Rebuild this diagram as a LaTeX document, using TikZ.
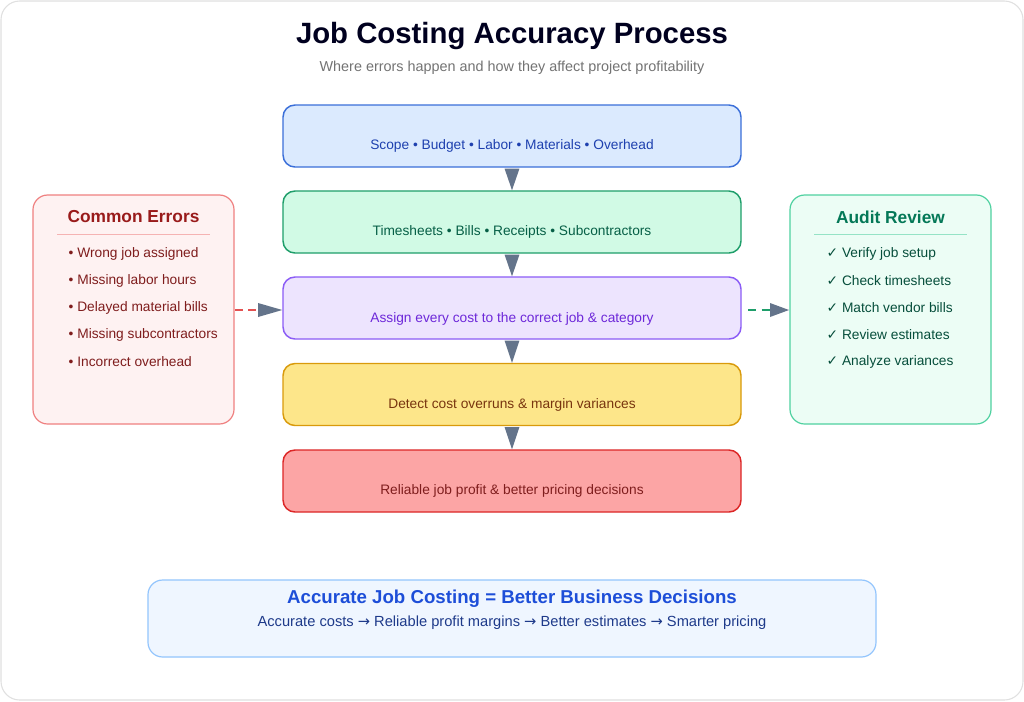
\documentclass[tikz,border=0pt]{standalone}
\usepackage{fontspec}
\setmainfont{Liberation Sans}
\newfontfamily\symf{DejaVu Sans}
\definecolor{slate}{HTML}{64748B}
\begin{document}
\begin{tikzpicture}[x=0.75pt,y=-0.75pt,
  stage/.style={draw,line width=1.1pt,rounded corners=9pt,minimum width=458*0.75pt,minimum height=62*0.75pt,text depth=0pt},
  side/.style={draw,line width=0.9pt,rounded corners=11pt},
  head/.style={fill=slate},
  txt/.style={font=\fontsize{10.3}{12}\selectfont,anchor=west},
  lbl/.style={font=\fontsize{10.3}{12}\selectfont}]
\useasboundingbox (0,0) rectangle (1024,701);
\draw[draw=black!12,fill=white,rounded corners=14pt,line width=0.8pt] (1,1) rectangle (1023,700);
\node[font=\fontsize{22}{24}\bfseries,text=black!80!blue!60!black] (title) at (512,36) {Job Costing Accuracy Process};
\node[font=\fontsize{10.8}{12}\selectfont,text=black!55] (sub) at (512,68) {Where errors happen and how they affect project profitability};
\definecolor{b1}{HTML}{DBEAFE}\definecolor{b1d}{HTML}{3B6FD9}\definecolor{b1t}{HTML}{1E40AF}
\definecolor{b2}{HTML}{D1FAE5}\definecolor{b2d}{HTML}{1E9E6A}\definecolor{b2t}{HTML}{065F46}
\definecolor{b3}{HTML}{EDE4FE}\definecolor{b3d}{HTML}{8B5CF6}\definecolor{b3t}{HTML}{6D28D9}
\definecolor{b4}{HTML}{FDE68A}\definecolor{b4d}{HTML}{D99A0B}\definecolor{b4t}{HTML}{78350F}
\definecolor{b5}{HTML}{FCA5A5}\definecolor{b5d}{HTML}{DC2626}\definecolor{b5t}{HTML}{7F1D1D}
\node[stage,fill=b1,draw=b1d] (s1) at (512,136) {};
\node[lbl,text=b1t] (t1) at (512,146) {Scope • Budget • Labor • Materials • Overhead};
\node[stage,fill=b2,draw=b2d] (s2) at (512,222) {};
\node[lbl,text=b2t] (t2) at (512,232) {Timesheets • Bills • Receipts • Subcontractors};
\node[stage,fill=b3,draw=b3d] (s3) at (512,308) {};
\node[lbl,text=b3t] (t3) at (512,319) {Assign every cost to the correct job \& category};
\node[stage,fill=b4,draw=b4d] (s4) at (512,394.5) {};
\node[lbl,text=b4t] (t4) at (512,405) {Detect cost overruns \& margin variances};
\node[stage,fill=b5,draw=b5d] (s5) at (512,481) {};
\node[lbl,text=b5t] (t5) at (512,491) {Reliable job profit \& better pricing decisions};
\foreach \a/\b in {s1/s2,s2/s3,s3/s4,s4/s5}
  \fill[head] ([xshift=-5.6pt,yshift=-0.6pt]\a.south) -- ([xshift=5.6pt,yshift=-0.6pt]\a.south) -- (\b.north) -- cycle;
% left box
\definecolor{ef}{HTML}{FEF2F2}\definecolor{ed}{HTML}{EF8080}\definecolor{et}{HTML}{991B1B}\definecolor{eb}{HTML}{7F1D1D}
\draw[side,fill=ef,draw=ed] (33,195) rectangle (234,424);
\node[font=\fontsize{13}{14}\bfseries,text=et] (eh) at (133.5,217) {Common Errors};
\draw[ed!60,line width=0.6pt] (57,234) -- (210,234);
\foreach \t [count=\i] in {Wrong job assigned,Missing labor hours,Delayed material bills,Missing subcontractors,Incorrect overhead}
  \node[txt,text=eb] (e\i) at (64,254+27*\i-27) {• \t};
% right box
\definecolor{af}{HTML}{ECFDF5}\definecolor{ad}{HTML}{4FD1A0}\definecolor{at}{HTML}{047857}\definecolor{ab}{HTML}{064E3B}
\draw[side,fill=af,draw=ad] (790,195) rectangle (991,424);
\node[font=\fontsize{13}{14}\bfseries,text=at] (ah) at (890.5,217) {Audit Review};
\draw[ad!60,line width=0.6pt] (814,234) -- (967,234);
\foreach \t [count=\i] in {Verify job setup,Check timesheets,Match vendor bills,Review estimates,Analyze variances}
  \node[txt,text=ab] (a\i) at (822,254+27*\i-27) {{\symf ✓} \t};
\coordinate (el) at (235,310);
\coordinate (ar) at (789,310);
\draw[dash pattern=on 6pt off 4pt,line width=1.4pt,color=b5d!80] (el) -- (258,310);
\fill[head] (258,303) -- (258,317) -- (s3.west |- el) -- cycle;
\draw[dash pattern=on 6pt off 4pt,line width=1.4pt,color=b2d] ([xshift=5pt]s3.east |- ar) -- (770,310);
\fill[head] (770,303) -- (770,317) -- (ar) -- cycle;
% bottom
\definecolor{bf}{HTML}{EFF6FF}\definecolor{bd}{HTML}{93C5FD}\definecolor{bt}{HTML}{1D4ED8}\definecolor{bb}{HTML}{1E3A8A}
\draw[side,fill=bf,draw=bd] (148,580) rectangle (876,657);
\node[font=\fontsize{14}{16}\bfseries,text=bt] (bh) at (512,599) {Accurate Job Costing = Better Business Decisions};
\node[font=\fontsize{11}{12}\selectfont,text=bb] (bl) at (512,623) {Accurate costs {\symf →} Reliable profit margins {\symf →} Better estimates {\symf →} Smarter pricing};
\end{tikzpicture}
\end{document}
